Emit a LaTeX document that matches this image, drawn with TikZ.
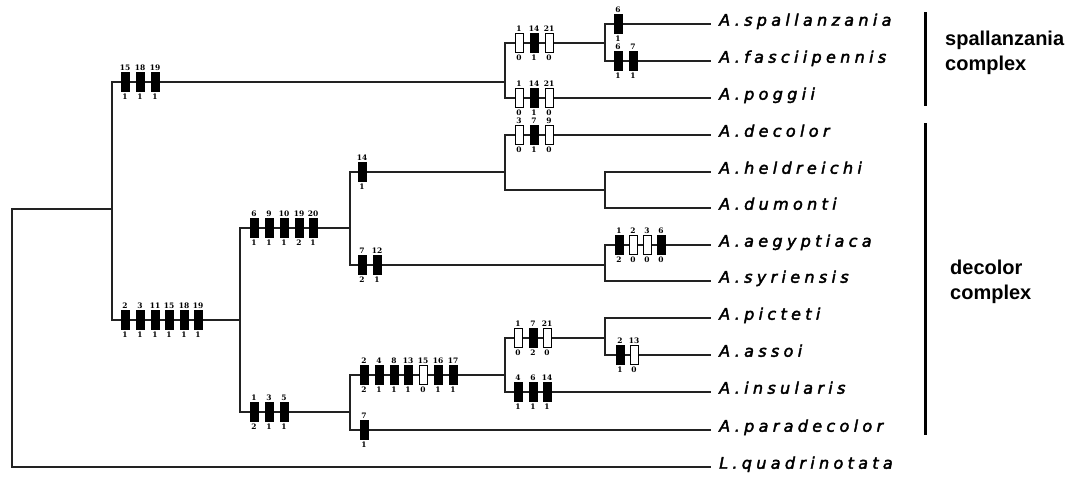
\documentclass[tikz,border=0pt]{standalone}
\usepackage{fontspec}
\newfontfamily\taxfont{DejaVu Sans}[LetterSpace=27, FakeBold=2.5]
\newfontfamily\digfont{DejaVu Serif}
\newfontfamily\grpfont{Liberation Sans}
\definecolor{branch}{HTML}{222222}

\tikzset{
  branch/.style={draw=branch, line width=2pt, line cap=rect},
  fb/.style={draw=black, fill=black, line width=1pt, minimum width=8pt, minimum height=19pt, inner sep=0pt},
  ob/.style={fb, fill=white},
  num/.style={font=\digfont\bfseries\fontsize{7.5}{7.5}\selectfont, inner sep=0.6pt, text=black},
  taxon/.style={anchor=west, inner xsep=9pt, inner ysep=0pt, font=\taxfont\itshape\fontsize{16}{16}\selectfont, text height=1.8ex, text depth=1ex},
  grp/.style={anchor=north west, inner sep=0pt, align=left, font=\grpfont\bfseries\fontsize{20}{24.5}\selectfont},
  bracket/.style={draw=black, line width=3pt},
}

% character-state marks along one branch: prefix, y, list of x/top/bottom/style
\newcommand\charmarks[3]{%
  \foreach \x/\t/\b/\s [count=\k] in {#3}
    {\node[\s, label={[num, label distance=1pt]above:\t}, label={[num, label distance=1pt]below:\b}] (#1-\k) at (\x,#2) {};}}

\begin{document}
\begin{tikzpicture}[x=1pt, y=-1pt]
\useasboundingbox (0,0) rectangle (1067,477);

% internal nodes (x of the vertical bar, y where the parent branch enters)
\coordinate (R)  at (12,209);
\coordinate (I)  at (112,209);
\coordinate (S)  at (505,82);
\coordinate (S1) at (605,43);
\coordinate (D)  at (240,320);
\coordinate (D1) at (350,228);
\coordinate (D2) at (350,412);
\coordinate (D3) at (505,172);
\coordinate (D4) at (605,265);
\coordinate (D5) at (605,190);
\coordinate (D6) at (505,375);
\coordinate (D7) at (605,338);

% terminal taxa
\node[taxon] (spal) at (710,24)  {A.spallanzania};
\node[taxon] (fasc) at (710,61)  {A.fasciipennis};
\node[taxon] (pogg) at (710,98)  {A.poggii};
\node[taxon] (deco) at (710,135) {A.decolor};
\node[taxon] (held) at (710,172) {A.heldreichi};
\node[taxon] (dumo) at (710,208) {A.dumonti};
\node[taxon] (aegy) at (710,245) {A.aegyptiaca};
\node[taxon] (syri) at (710,281) {A.syriensis};
\node[taxon] (pict) at (710,318) {A.picteti};
\node[taxon] (asso) at (710,355) {A.assoi};
\node[taxon] (insu) at (710,392) {A.insularis};
\node[taxon] (para) at (710,430) {A.paradecolor};
\node[taxon] (lqua) at (710,467) {L.quadrinotata};

% branches
\draw[branch] (R) |- (I);       \draw[branch] (R) |- (lqua.west);
\draw[branch] (I) |- (S);       \draw[branch] (I) |- (D);
\draw[branch] (S) |- (S1);      \draw[branch] (S) |- (pogg.west);
\draw[branch] (S1) |- (spal.west); \draw[branch] (S1) |- (fasc.west);
\draw[branch] (D) |- (D1);      \draw[branch] (D) |- (D2);
\draw[branch] (D1) |- (D3);     \draw[branch] (D1) |- (D4);
\draw[branch] (D3) |- (deco.west); \draw[branch] (D3) |- (D5);
\draw[branch] (D5) |- (held.west); \draw[branch] (D5) |- (dumo.west);
\draw[branch] (D4) |- (aegy.west); \draw[branch] (D4) |- (syri.west);
\draw[branch] (D2) |- (D6);     \draw[branch] (D2) |- (para.west);
\draw[branch] (D6) |- (D7);     \draw[branch] (D6) |- (insu.west);
\draw[branch] (D7) |- (pict.west); \draw[branch] (D7) |- (asso.west);

% character changes
\charmarks{m1}{82}{125/15/1/fb, 140/18/1/fb, 155/19/1/fb}
\charmarks{m2}{43}{519/1/0/ob, 534/14/1/fb, 549/21/0/ob}
\charmarks{m3}{98}{519/1/0/ob, 534/14/1/fb, 549/21/0/ob}
\charmarks{m4}{24}{618/6/1/fb}
\charmarks{m5}{61}{618/6/1/fb, 633/7/1/fb}
\charmarks{m6}{320}{125/2/1/fb, 140/3/1/fb, 155/11/1/fb, 169/15/1/fb, 184/18/1/fb, 198/19/1/fb}
\charmarks{m7}{228}{254/6/1/fb, 269/9/1/fb, 284/10/1/fb, 299/19/2/fb, 313/20/1/fb}
\charmarks{m8}{172}{362/14/1/fb}
\charmarks{m9}{135}{519/3/0/ob, 534/7/1/fb, 549/9/0/ob}
\charmarks{m10}{265}{362/7/2/fb, 377/12/1/fb}
\charmarks{m11}{245}{619/1/2/fb, 633/2/0/ob, 647/3/0/ob, 661/6/0/fb}
\charmarks{m12}{412}{254/1/2/fb, 269/3/1/fb, 284/5/1/fb}
\charmarks{m13}{375}{364/2/2/fb, 379/4/1/fb, 394/8/1/fb, 408/13/1/fb, 423/15/0/ob, 438/16/1/fb, 453/17/1/fb}
\charmarks{m14}{338}{518/1/0/ob, 533/7/2/fb, 547/21/0/ob}
\charmarks{m15}{355}{620/2/1/fb, 634/13/0/ob}
\charmarks{m16}{392}{518/4/1/fb, 533/6/1/fb, 547/14/1/fb}
\charmarks{m17}{430}{364/7/1/fb}

% species-group brackets
\draw[bracket] (925,12) -- (925,106);
\draw[bracket] (925,123) -- (925,435);
\node[grp] (gS) at (945,31) {spallanzania\\complex};
\node[grp] (gD) at (950,260) {decolor\\complex};
\end{tikzpicture}
\end{document}
